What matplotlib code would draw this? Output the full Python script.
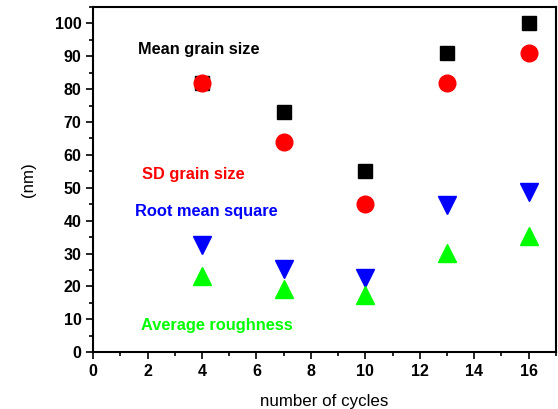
import numpy as np
import matplotlib.pyplot as plt
from matplotlib.ticker import MultipleLocator

plt.rcParams['font.family'] = ['Liberation Sans', 'DejaVu Sans']

#### Data ####
cycles = [4, 7, 10, 13, 16]
mean_grain = [82, 73, 55, 91, 100]
sd_grain = [82, 64, 45, 82, 91]
rms = [32.6, 25.3, 22.5, 44.8, 48.8]
avg_rough = [23.3, 19.2, 17.4, 30.2, 35.4]

fig = plt.figure(figsize=(5.58, 4.09), dpi=100)
ax = fig.add_axes([0.167, 0.139, 0.829, 0.844])

ax.plot(cycles, mean_grain, 's', color='black', ms=10.5, ls='none')
ax.plot(cycles, sd_grain, 'o', color='#ff0000', ms=12, ls='none')
ax.plot(cycles, rms, 'v', color='#0000ff', ms=13, ls='none')
ax.plot(cycles, avg_rough, '^', color='#00ff00', ms=13, ls='none')

# labels in the plot
ax.text(1.65, 92, 'Mean grain size', color='black', fontsize=11.8,
        fontweight='bold', va='center')
ax.text(1.8, 54, 'SD grain size', color='#ff0000', fontsize=11.8,
        fontweight='bold', va='center')
ax.text(1.55, 42.7, 'Root mean square', color='#0000ff', fontsize=11.8,
        fontweight='bold', va='center')
ax.text(1.75, 8.2, 'Average roughness', color='#00ff00', fontsize=11.8,
        fontweight='bold', va='center')

ax.set_xlim(0, 17)
ax.set_ylim(0, 105)
ax.xaxis.set_major_locator(MultipleLocator(2))
ax.xaxis.set_minor_locator(MultipleLocator(1))
ax.yaxis.set_major_locator(MultipleLocator(10))
ax.yaxis.set_minor_locator(MultipleLocator(5))
ax.tick_params(which='both', direction='out', top=False, right=False,
               width=1.2, labelsize=11.5)
ax.tick_params(which='major', length=5)
ax.tick_params(which='minor', length=3)
for lab in ax.get_xticklabels() + ax.get_yticklabels():
    lab.set_fontweight('bold')
for s in ax.spines.values():
    s.set_linewidth(1.5)

ax.set_xlabel('number of cycles', fontsize=12.2)
ax.set_ylabel('(nm)', fontsize=12.2)
ax.yaxis.set_label_coords(-0.123, 0.5)
ax.xaxis.set_label_coords(0.5, -0.12)

plt.savefig('out.png', dpi=100)
